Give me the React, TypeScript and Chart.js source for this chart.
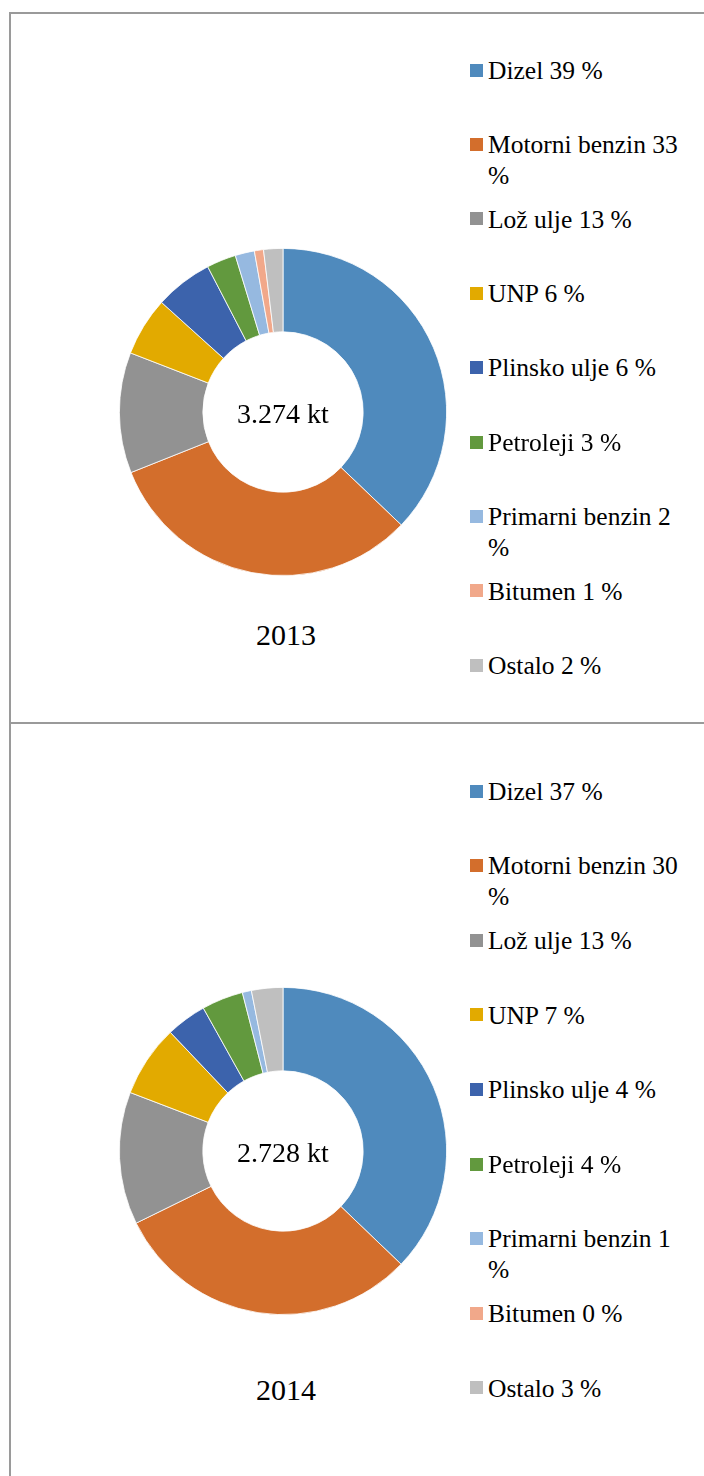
import React, { useEffect, useRef } from "react";
import { Chart, registerables } from "chart.js";

Chart.register(...registerables);

const categories = [
  "Dizel",
  "Motorni benzin",
  "Lož ulje",
  "UNP",
  "Plinsko ulje",
  "Petroleji",
  "Primarni benzin",
  "Bitumen",
  "Ostalo",
];

// slice shares
const values2013 = [37.1, 31.8, 11.9, 5.8, 5.7, 2.9, 1.9, 0.9, 1.9];
const values2014 = [37.2, 30.6, 13.1, 7.1, 4.0, 4.1, 0.9, 0.0, 3.1];

// percentages as printed in the legend
const pct2013 = [39, 33, 13, 6, 6, 3, 2, 1, 2];
const pct2014 = [37, 30, 13, 7, 4, 4, 1, 0, 3];

const totals = ["3.274 kt", "2.728 kt"];
const years = ["2013", "2014"];

const colors = [
  "#4F8ABD",
  "#D36E2C",
  "#929292",
  "#E2AA00",
  "#3C63AC",
  "#62993E",
  "#96B9E0",
  "#F1A88A",
  "#BFBFBF",
];

const FONT = '"Liberation Serif", "Times New Roman", serif';

type PanelProps = {
  values: number[];
  pct: number[];
  total: string;
  year: string;
  cy: number;
  legendTop: number;
  legendStep: number;
  yearY: number;
};

function Donut({ values, cy }: { values: number[]; cy: number }) {
  const ref = useRef<HTMLCanvasElement | null>(null);
  useEffect(() => {
    if (!ref.current) return;
    const chart = new Chart(ref.current, {
      type: "doughnut",
      data: {
        labels: categories,
        datasets: [
          {
            data: values,
            backgroundColor: colors,
            borderColor: "#ffffff",
            borderWidth: 0.8,
            hoverOffset: 0,
          },
        ],
      },
      options: {
        responsive: false,
        maintainAspectRatio: false,
        animation: false,
        cutout: "49%",
        layout: { padding: 0 },
        plugins: {
          legend: { display: false },
          tooltip: { enabled: false },
        },
      },
    });
    return () => chart.destroy();
  }, [values]);
  const size = 328;
  return (
    <canvas
      ref={ref}
      width={size}
      height={size}
      style={{
        position: "absolute",
        left: 283 - size / 2,
        top: cy - size / 2,
        width: size,
        height: size,
        display: "block",
      }}
    />
  );
}

function Panel(p: PanelProps) {
  return (
    <>
      <Donut values={p.values} cy={p.cy} />
      <div
        style={{
          position: "absolute",
          left: 183,
          width: 200,
          top: p.cy - 18,
          height: 40,
          lineHeight: "40px",
          textAlign: "center",
          fontFamily: FONT,
          fontSize: 28,
          color: "#000",
        }}
      >
        {p.total}
      </div>
      <div
        style={{
          position: "absolute",
          left: 186,
          width: 200,
          top: p.yearY - 19,
          height: 40,
          lineHeight: "40px",
          textAlign: "center",
          fontFamily: FONT,
          fontSize: 30,
          color: "#000",
        }}
      >
        {p.year}
      </div>
      {categories.map((c, i) => {
        const yc = p.legendTop + i * p.legendStep;
        return (
          <React.Fragment key={c}>
            <div
              style={{
                position: "absolute",
                left: 470,
                top: yc - 6.5,
                width: 13,
                height: 13,
                background: colors[i],
              }}
            />
            <div
              style={{
                position: "absolute",
                left: 488,
                top: yc - 15.2,
                width: 204,
                lineHeight: "31px",
                fontFamily: FONT,
                fontSize: 25.5,
                color: "#000",
              }}
            >
              {`${c} ${p.pct[i]} %`}
            </div>
          </React.Fragment>
        );
      })}
    </>
  );
}

export default function App() {
  return (
    <div
      style={{
        position: "absolute",
        left: 0,
        top: 0,
        width: 704,
        height: 1476,
        overflow: "hidden",
        background: "#fff",
      }}
    >
      <div style={{ position: "absolute", left: 9, top: 12, width: 695, height: 2, background: "#9a9a9a" }} />
      <div style={{ position: "absolute", left: 9, top: 12, width: 2, height: 1464, background: "#9a9a9a" }} />
      <div style={{ position: "absolute", left: 9, top: 722, width: 695, height: 2, background: "#9a9a9a" }} />
      <Panel
        values={values2013}
        pct={pct2013}
        total={totals[0]}
        year={years[0]}
        cy={411.5}
        legendTop={70}
        legendStep={74.4}
        yearY={634}
      />
      <Panel
        values={values2014}
        pct={pct2014}
        total={totals[1]}
        year={years[1]}
        cy={1150.5}
        legendTop={791}
        legendStep={74.6}
        yearY={1389}
      />
    </div>
  );
}
